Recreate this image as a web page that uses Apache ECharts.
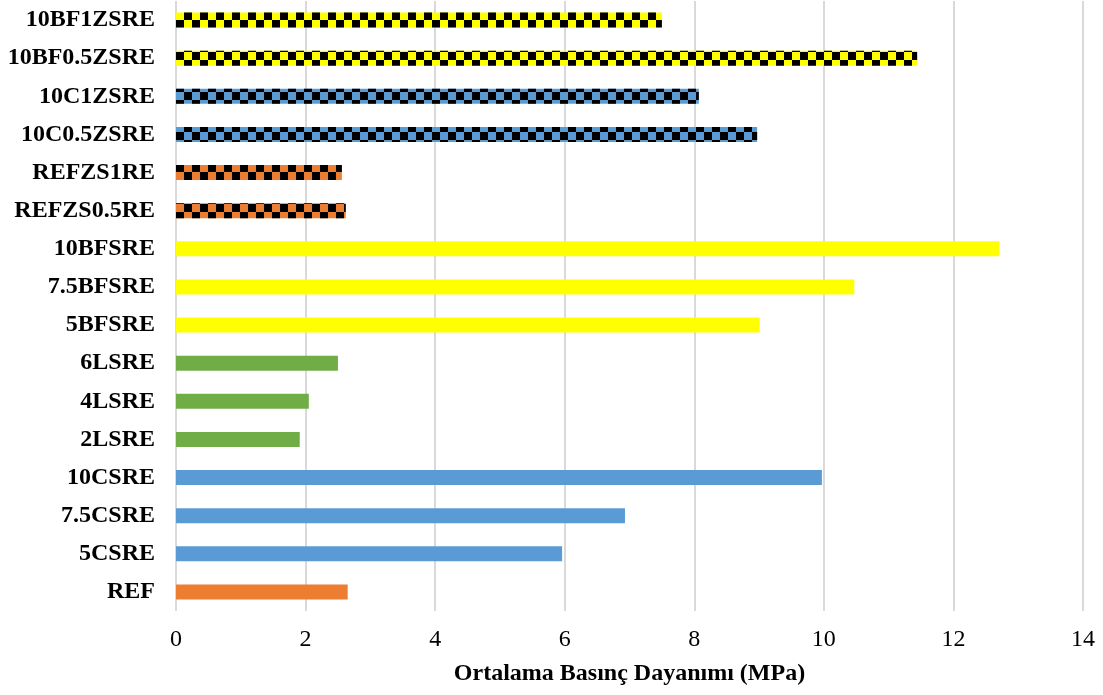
<!DOCTYPE html>
<html>
<head>
<meta charset="utf-8">
<script src="https://cdn.jsdelivr.net/npm/echarts@6/dist/echarts.min.js"></script>
<style>
  html, body { margin: 0; padding: 0; background: #fff; }
  #chart { width: 1103px; height: 695px; }
</style>
</head>
<body>
<div id="chart"></div>
<script>
// Mixes, listed from the bottom of the axis to the top
const categories = [
  'REF', '5CSRE', '7.5CSRE', '10CSRE',
  '2LSRE', '4LSRE', '6LSRE',
  '5BFSRE', '7.5BFSRE', '10BFSRE',
  'REFZS0.5RE', 'REFZS1RE',
  '10C0.5ZSRE', '10C1ZSRE',
  '10BF0.5ZSRE', '10BF1ZSRE'
];

// Mean compressive strength, MPa
const strength = [
  2.65, 5.96, 6.93, 9.97,
  1.91, 2.05, 2.50,
  9.01, 10.47, 12.71,
  2.62, 2.56,
  8.97, 8.07,
  11.44, 7.50
];

// Additive family of each mix (drives the fill colour)
const family = [
  'ref', 'c', 'c', 'c',
  'l', 'l', 'l',
  'bf', 'bf', 'bf',
  'ref', 'ref',
  'c', 'c',
  'bf', 'bf'
];

// Mixes containing ZS get the checkered fill
const withZS = [
  false, false, false, false,
  false, false, false,
  false, false, false,
  true, true,
  true, true,
  true, true
];

const xTicks = { min: 0, max: 14, step: 2 };

const familyColor = {
  ref: '#ED7D31',
  c: '#5B9BD5',
  l: '#70AD47',
  bf: '#FFFF00'
};

// Checkerboard: a thin row, a full row, a thin row across the 15px bar
const checker = {
  symbol: 'rect',
  symbolSize: 1,
  color: '#000000',
  dashArrayX: [[0, 8, 8, 0], [8, 8], [0, 8, 8, 0]],
  dashArrayY: [3.5, 0, 8, 0, 3.5, 0],
  rotation: 0
};

const barData = strength.map((v, i) => {
  const style = { color: familyColor[family[i]] };
  if (withZS[i]) style.decal = checker;
  return { value: v, itemStyle: style };
});

const chart = echarts.init(document.getElementById('chart'), null, { renderer: 'canvas' });

chart.setOption({
  animation: false,
  backgroundColor: '#ffffff',
  grid: {
    left: 176, right: 20, top: 1, bottom: 84,
    containLabel: false,
    outerBoundsMode: 'none'
  },
  xAxis: {
    type: 'value',
    min: xTicks.min,
    max: xTicks.max,
    interval: xTicks.step,
    axisLine: { show: false },
    axisTick: { show: false },
    splitLine: { show: true, lineStyle: { color: '#D9D9D9', width: 2 } },
    axisLabel: {
      color: '#000',
      fontFamily: 'Liberation Serif',
      fontSize: 24,
      margin: 17
    },
    name: 'Ortalama Basınç Dayanımı (MPa)',
    nameLocation: 'middle',
    nameGap: 51,
    nameTextStyle: {
      color: '#000',
      fontFamily: 'Liberation Serif',
      fontWeight: 'bold',
      fontSize: 24
    }
  },
  yAxis: {
    type: 'category',
    data: categories,
    axisLine: { show: false },
    axisTick: { show: false },
    splitLine: { show: false },
    axisLabel: {
      color: '#000',
      fontFamily: 'Liberation Serif',
      fontWeight: 'bold',
      fontSize: 24,
      margin: 21
    }
  },
  series: [{
    type: 'bar',
    data: barData,
    barWidth: 15
  }]
});
</script>
</body>
</html>
